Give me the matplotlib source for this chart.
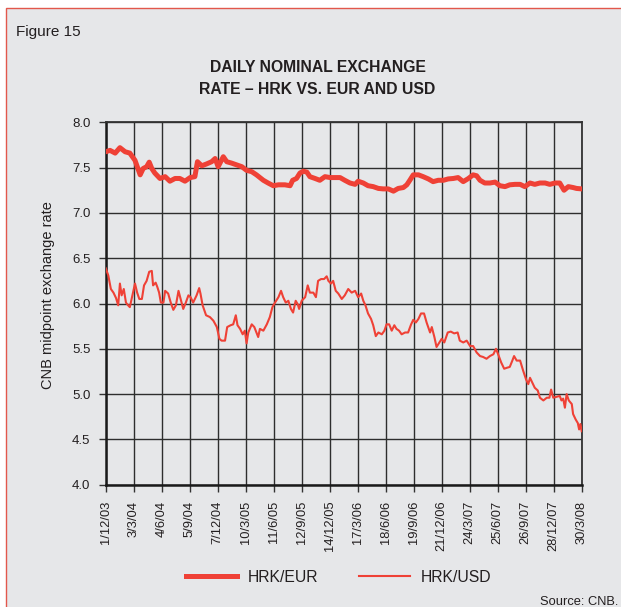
import matplotlib
matplotlib.use("Agg")
import matplotlib.pyplot as plt
from matplotlib import font_manager
from matplotlib.patches import Rectangle
from matplotlib.lines import Line2D

# ---------------- data ----------------
tick_labels = ["1/12/03", "3/3/04", "4/6/04", "5/9/04", "7/12/04", "10/3/05",
               "11/6/05", "12/9/05", "14/12/05", "17/3/06", "18/6/06", "19/9/06",
               "21/12/06", "24/3/07", "25/6/07", "26/9/07", "28/12/07", "30/3/08"]
days_per_tick = 65  # business days between labelled dates

eur_day = [0, 10, 22, 33, 45, 56, 68, 80, 87, 95, 101, 107, 114, 126, 138, 149, 161, 172,
           184, 196, 207, 213, 223, 234, 246, 254, 261, 273, 281, 292, 304, 316, 327, 339,
           350, 366, 377, 389, 401, 416, 428, 434, 443, 451, 459, 467, 474, 486, 497, 509,
           521, 532, 544, 555, 567, 579, 586, 598, 609, 621, 633, 644, 656, 668, 679, 691,
           699, 706, 714, 726, 737, 749, 760, 772, 784, 795, 807, 818, 830, 842, 853, 861,
           869, 880, 892, 904, 915, 927, 938, 950, 962, 973, 985, 996, 1008, 1020, 1031,
           1043, 1054, 1064, 1074, 1085, 1093, 1105]
eur_rate = [7.675, 7.69, 7.66, 7.72, 7.675, 7.66, 7.58, 7.42, 7.49, 7.51, 7.56, 7.49, 7.44,
            7.38, 7.40, 7.35, 7.38, 7.38, 7.35, 7.39, 7.40, 7.565, 7.52, 7.54, 7.565, 7.60,
            7.51, 7.62, 7.565, 7.55, 7.53, 7.51, 7.47, 7.455, 7.42, 7.36, 7.33, 7.30, 7.31,
            7.31, 7.30, 7.36, 7.38, 7.44, 7.46, 7.45, 7.40, 7.38, 7.36, 7.40, 7.39, 7.39,
            7.39, 7.36, 7.33, 7.315, 7.35, 7.33, 7.30, 7.29, 7.27, 7.265, 7.265, 7.24, 7.27,
            7.28, 7.31, 7.36, 7.42, 7.42, 7.40, 7.375, 7.345, 7.36, 7.36, 7.375, 7.38, 7.39,
            7.345, 7.38, 7.42, 7.41, 7.36, 7.33, 7.33, 7.34, 7.30, 7.29, 7.31, 7.315, 7.315,
            7.29, 7.33, 7.315, 7.33, 7.33, 7.315, 7.33, 7.33, 7.25, 7.29, 7.28, 7.27, 7.265]

usd_day = [0, 6, 12, 18, 24, 29, 33, 37, 42, 47, 52, 56, 62, 68, 73, 78, 84, 89, 95, 101,
           107, 110, 116, 120, 124, 128, 134, 138, 145, 151, 157, 163, 169, 174, 180, 186,
           192, 197, 203, 211, 217, 220, 225, 233, 242, 250, 258, 264, 269, 277, 282, 290,
           296, 302, 306, 312, 318, 323, 327, 331, 339, 345, 350, 354, 358, 366, 374, 381,
           387, 393, 401, 407, 412, 418, 424, 430, 435, 441, 446, 449, 455, 463, 469, 474,
           482, 488, 493, 500, 507, 513, 517, 523, 528, 534, 540, 548, 555, 563, 571, 579,
           586, 593, 598, 603, 609, 616, 621, 627, 633, 641, 647, 652, 658, 664, 670, 675,
           681, 687, 695, 702, 709, 714, 720, 726, 732, 739, 745, 753, 757, 763, 768, 772,
           780, 786, 794, 801, 809, 817, 822, 830, 838, 846, 853, 861, 869, 876, 884, 892,
           900, 906, 911, 918, 925, 931, 938, 944, 948, 954, 962, 969, 976, 981, 985, 990,
           996, 1003, 1008, 1016, 1024, 1030, 1034, 1039, 1047, 1054, 1058, 1062, 1066,
           1070, 1075, 1082, 1085, 1091, 1096, 1099, 1102, 1105]
usd_rate = [6.39, 6.31, 6.16, 6.12, 6.06, 5.98, 6.22, 6.09, 6.16, 6.01, 5.98, 5.96, 6.09,
            6.22, 6.12, 6.05, 6.05, 6.20, 6.25, 6.35, 6.36, 6.20, 6.23, 6.18, 6.12, 6.01,
            6.01, 6.14, 6.11, 6.01, 5.93, 5.98, 6.14, 6.05, 5.94, 6.01, 6.09, 6.07, 6.01,
            6.09, 6.17, 6.11, 5.98, 5.87, 5.85, 5.81, 5.74, 5.61, 5.59, 5.59, 5.74, 5.76,
            5.77, 5.87, 5.76, 5.72, 5.66, 5.70, 5.56, 5.68, 5.77, 5.74, 5.68, 5.63, 5.72,
            5.70, 5.77, 5.85, 5.96, 6.01, 6.07, 6.14, 6.07, 6.01, 6.03, 5.94, 5.90, 6.03,
            5.99, 5.94, 6.03, 6.07, 6.20, 6.12, 6.12, 6.07, 6.25, 6.27, 6.27, 6.30, 6.25,
            6.22, 6.25, 6.14, 6.11, 6.05, 6.09, 6.16, 6.12, 6.14, 6.07, 6.11, 6.03, 5.98,
            5.89, 5.83, 5.76, 5.64, 5.68, 5.66, 5.70, 5.77, 5.77, 5.70, 5.76, 5.72, 5.70,
            5.66, 5.68, 5.68, 5.77, 5.82, 5.79, 5.83, 5.89, 5.89, 5.79, 5.68, 5.74, 5.63,
            5.52, 5.55, 5.61, 5.57, 5.68, 5.69, 5.67, 5.68, 5.59, 5.57, 5.59, 5.53, 5.53,
            5.46, 5.42, 5.41, 5.39, 5.42, 5.44, 5.50, 5.44, 5.35, 5.28, 5.29, 5.30, 5.37,
            5.42, 5.37, 5.37, 5.26, 5.16, 5.11, 5.18, 5.13, 5.07, 5.04, 4.96, 4.93, 4.96,
            4.96, 5.05, 4.96, 4.97, 4.98, 4.93, 4.95, 4.85, 5.00, 4.93, 4.89, 4.78, 4.72,
            4.68, 4.61, 4.67, 4.59]

y_ticks = [4.0, 4.5, 5.0, 5.5, 6.0, 6.5, 7.0, 7.5, 8.0]

# ---------------- style ----------------
names = {f.name for f in font_manager.fontManager.ttflist}
base_font = "Liberation Sans" if "Liberation Sans" in names else "DejaVu Sans"
if "Liberation Sans Narrow" in names:
    title_font, title_size = "Liberation Sans Narrow", 13.3
else:
    title_font, title_size = base_font, 11.3
plt.rcParams["font.family"] = [base_font, "DejaVu Sans"]

W, H = 621, 607
RED = "#ef4136"
BG = "#e6e7e9"

fig = plt.figure(figsize=(W / 100, H / 100), dpi=100, facecolor="white")
fig.patches.append(Rectangle((6 / W, -0.05), 1.1, 1 - 8 / H + 0.05, transform=fig.transFigure,
                             facecolor=BG, edgecolor="#e2574c", linewidth=1.0, zorder=-10))

ax = fig.add_axes([105.7 / W, 1 - 484.7 / H, 476 / W, 362.4 / H])
ax.set_facecolor(BG)

ax.plot(eur_day, eur_rate, color=RED, lw=3.6, solid_joinstyle="round", zorder=3)
ax.plot(usd_day, usd_rate, color=RED, lw=1.5, zorder=3)

ax.set_xlim(0, days_per_tick * (len(tick_labels) - 1))
ax.set_ylim(4, 8)
ax.set_xticks([i * days_per_tick for i in range(len(tick_labels))])
ax.set_xticklabels(tick_labels, rotation=90, fontsize=9.3, color="#231f20")
ax.set_yticks(y_ticks)
ax.set_yticklabels([f"{v:.1f}" for v in y_ticks], fontsize=9.5, color="#231f20")
ax.tick_params(axis="x", direction="out", length=5, width=1, pad=6.5, color="#333333")
ax.tick_params(axis="y", direction="out", length=5, width=1, pad=6, color="#333333")

ax.grid(True, color="#2e2e2e", lw=1.0, zorder=1)
ax.set_axisbelow(True)
for s in ("left", "bottom"):
    ax.spines[s].set_linewidth(1.8)
    ax.spines[s].set_color("#1a1a1a")
for s in ("top", "right"):
    ax.spines[s].set_linewidth(1.3)
    ax.spines[s].set_color("#333333")

fig.text(48 / W, 1 - 295 / H, "CNB midpoint exchange rate", rotation=90, ha="center",
         va="center", fontsize=10.5, color="#231f20")

fig.text(16 / W, 1 - 31.7 / H, "Figure 15", ha="left", va="center", fontsize=11,
         color="#231f20")
fig.text(317.5 / W, 1 - 68 / H, "DAILY NOMINAL EXCHANGE", ha="center", va="center",
         fontsize=title_size, fontweight="bold", family=title_font, color="#231f20")
fig.text(317.5 / W, 1 - 89 / H, "RATE \u2013 HRK VS. EUR AND USD", ha="center", va="center",
         fontsize=title_size, fontweight="bold", family=title_font, color="#231f20")

handles = [Line2D([], [], color=RED, lw=3.6), Line2D([], [], color=RED, lw=1.5)]
fig.legend(handles, ["HRK/EUR", "HRK/USD"], loc="center", ncol=2, frameon=False,
           bbox_to_anchor=(338.5 / W, 1 - 577.2 / H), fontsize=11.3,
           handlelength=3.25, handletextpad=0.7, columnspacing=2.6,
           labelcolor="#231f20")

fig.text(618 / W, 1 - 602 / H, "Source: CNB.", ha="right", va="center", fontsize=9.3,
         color="#231f20")

fig.savefig("out.png", dpi=100, facecolor=fig.get_facecolor())
